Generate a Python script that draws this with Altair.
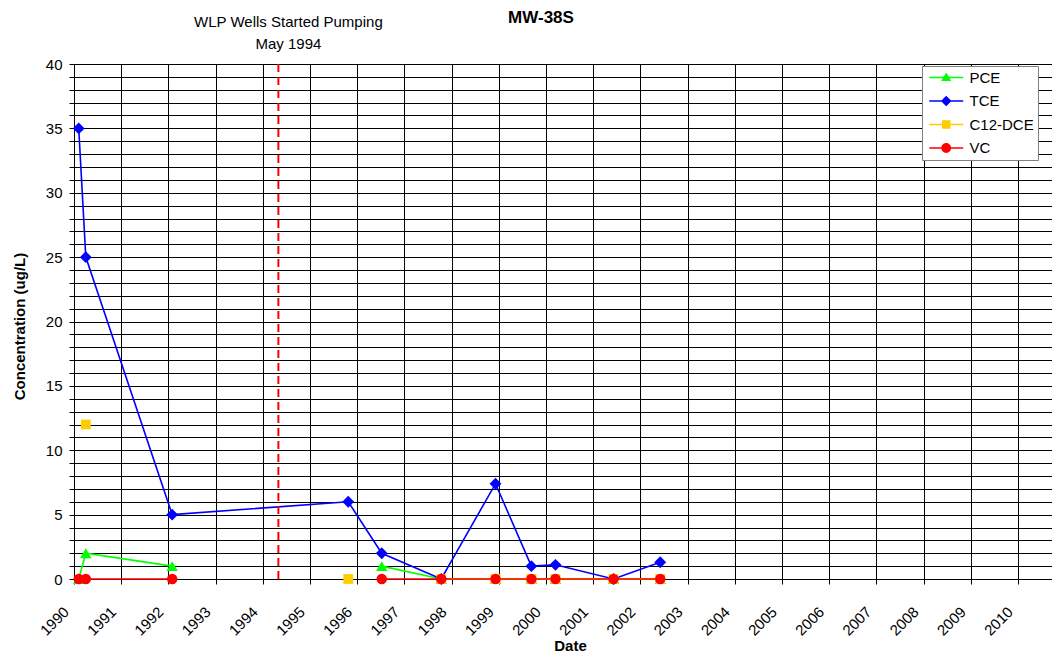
import altair as alt
import pandas as pd

# ---- data ----
dates = [1990.10, 1990.25, 1992.08, 1995.81, 1996.52, 1997.78, 1998.93, 1999.69, 2000.20, 2001.43, 2002.42]
series_names = ["PCE", "TCE", "C12-DCE", "VC"]
pce = [0, 2, 1, None, 1, 0, 0, 0, 0, 0, 0]
tce = [35, 25, 5, 6, 2, 0, 7.4, 1.0, 1.1, 0, 1.3]
c12 = [None, 12, None, 0, None, 0, 0, 0, 0, 0, 0]
vc = [0, 0, 0, None, 0, 0, 0, 0, 0, 0, 0]
pumping_start = [1994.33]
annotation_lines = ["WLP Wells Started Pumping", "May 1994"]
year_ticks = list(range(1990, 2012))
y_ticks = list(range(0, 41))

# ---- styles ----
colors = ["#00FF00", "#0000FF", "#FFCC00", "#FF0000"]
shapes = ["triangle-up", "diamond", "square", "circle"]
marker_sizes = [130, 140, 95, 110]
LINE = "M-1,-0.18L7,-0.18L7,0.18L-1,0.18Z"
legend_paths = [
    LINE + "M3,-1.2L4.2,0.85L1.8,0.85Z",
    LINE + "M3,-1.25L4.25,0L3,1.25L1.75,0Z",
    LINE + "M2,-1L4,-1L4,1L2,1Z",
    LINE + "M4.15,0A1.15,1.15,0,1,1,1.85,0A1.15,1.15,0,1,1,4.15,0Z",
]
FONT = "Liberation Sans"

rows = []
for name, vals in zip(series_names, [pce, tce, c12, vc]):
    for d, v in zip(dates, vals):
        rows.append({"date": d, "series": name, "value": v})
df = pd.DataFrame(rows)

xscale = alt.Scale(domain=[1990, 2010.72], nice=False, zero=False)
yscale = alt.Scale(domain=[0, 40], nice=False, zero=True)
cscale = alt.Scale(domain=series_names, range=colors)

x_axis = alt.Axis(values=year_ticks, tickCount=len(year_ticks), format="d", labelAngle=-45,
                  labelAlign="right", labelBaseline="top",
                  title="Date", grid=True, gridColor="#000000", gridWidth=1,
                  tickColor="#000000", tickSize=5, domainColor="#000000",
                  labelPadding=20, labelOffset=-13, titleX=496, titleY=66,
                  titleBaseline="middle", titleAlign="center")
y_axis = alt.Axis(values=y_ticks, tickCount=len(y_ticks),
                  labelExpr="datum.value % 5 == 0 ? datum.label : ''",
                  title="Concentration (ug/L)", grid=True, gridColor="#000000", gridWidth=1,
                  tickColor="#000000", tickSize=5, domainColor="#000000",
                  labelPadding=7, titleX=-55, titleY=262, titleAngle=270,
                  titleBaseline="middle", titleAlign="center")


def xe():
    return alt.X("date:Q", scale=xscale, axis=x_axis)


def ye():
    return alt.Y("value:Q", scale=yscale, axis=y_axis)


line_layers = []
point_layers = []
for name, col, shp, sz in zip(series_names, colors, shapes, marker_sizes):
    sub = alt.Chart(df).transform_filter(f"datum.series == '{name}'")
    line_layers.append(
        sub.mark_line(color=col, strokeWidth=1.6, invalid="break-paths-filter-domains").encode(
            x=xe(), y=ye(), order=alt.Order("date:Q"))
    )
    point_layers.append(
        sub.transform_filter("isValid(datum.value)").mark_point(
            filled=True, opacity=1, shape=shp, size=sz, color=col
        ).encode(x=xe(), y=ye())
    )

rule_df = pd.DataFrame({"date": pumping_start})
rule = alt.Chart(rule_df).mark_rule(color="#FF0000", strokeWidth=2, strokeDash=[8, 5]).encode(
    x=xe(), y=alt.value(0), y2=alt.value(515)
)

ann1 = alt.Chart(pd.DataFrame({"date": pumping_start, "line": [annotation_lines[0]]})).mark_text(
    font=FONT, fontSize=15, color="#000000", align="center", baseline="middle", dx=10
).encode(x=xe(), y=alt.value(-42), text="line:N")
ann2 = alt.Chart(pd.DataFrame({"date": pumping_start, "line": [annotation_lines[1]]})).mark_text(
    font=FONT, fontSize=15, color="#000000", align="center", baseline="middle", dx=10
).encode(x=xe(), y=alt.value(-20), text="line:N")

legend_df = pd.DataFrame({"series": series_names, "date": [1990.0] * 4, "value": [-100.0] * 4})
legend_layer = alt.Chart(legend_df).mark_point(filled=True, clip=True, size=72, opacity=1).encode(
    x=xe(), y=ye(),
    color=alt.Color("series:N", scale=cscale, legend=alt.Legend(
        orient="none", legendX=848, legendY=2, title=None, fillColor="white",
        strokeColor="#808080", padding=4, symbolSize=72, labelOffset=28.5,
        rowPadding=7.5, labelFontSize=15, labelFont=FONT, labelColor="#000000",
        symbolStrokeWidth=0, symbolOpacity=1)),
    shape=alt.Shape("series:N", scale=alt.Scale(domain=series_names, range=legend_paths)),
)

chart = alt.layer(*line_layers, *point_layers, rule, ann1, ann2, legend_layer).properties(
    width=978, height=515,
    autosize=alt.AutoSizeParams(type="none"),
    padding={"left": 66, "top": 56, "right": 0, "bottom": 73},
    title=alt.Title("MW-38S", fontSize=17, fontWeight="bold", font=FONT, anchor="middle",
                    frame="group", dx=-22, offset=-12, color="#000000"),
).configure_view(strokeWidth=0).configure_axis(
    labelFont=FONT, labelFontSize=15, labelColor="#000000",
    titleFont=FONT, titleFontSize=15, titleFontWeight="bold", titleColor="#000000",
    gridOpacity=1,
)

chart.save("out.html", embed_options={"renderer": "svg", "actions": False})
